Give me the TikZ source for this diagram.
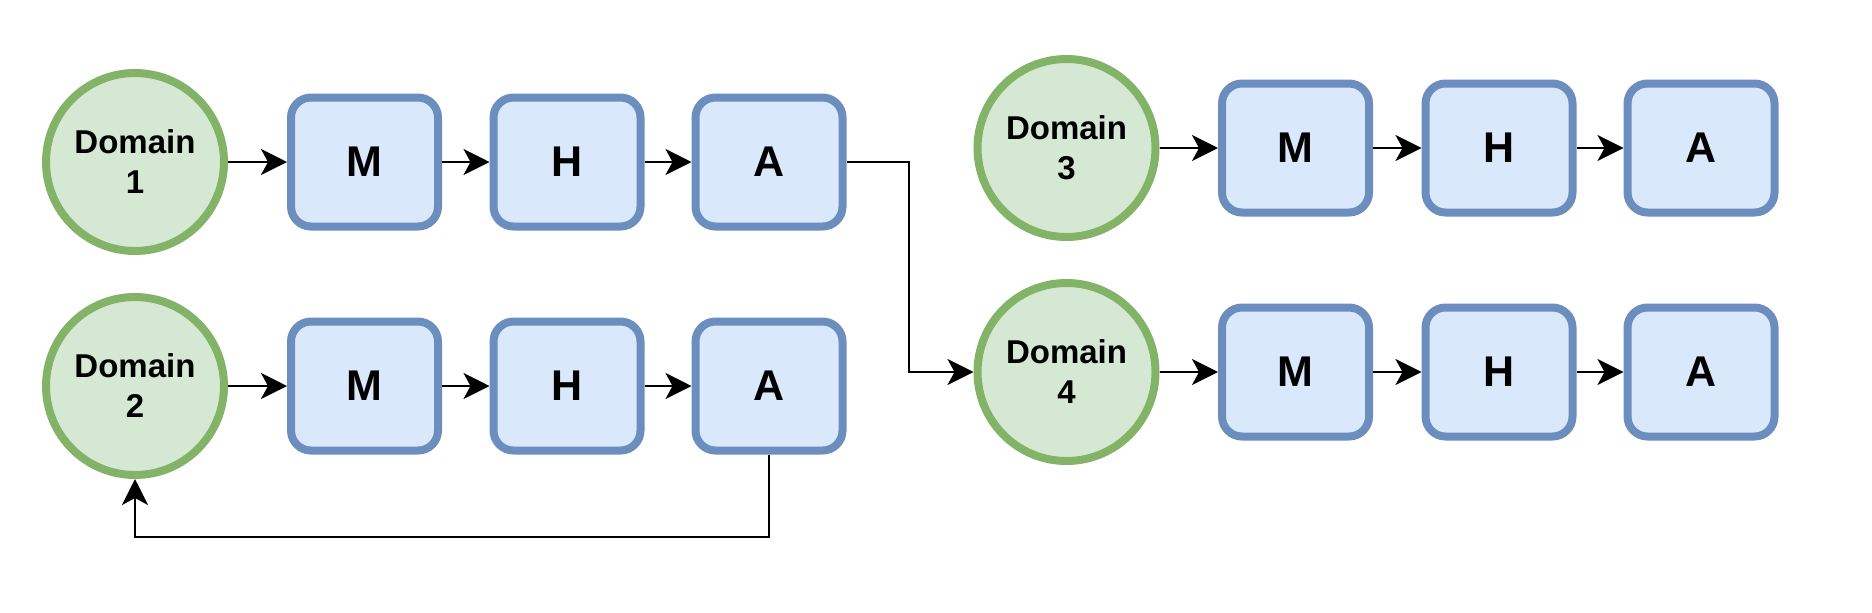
\documentclass[tikz,border=0pt]{standalone}
\usepackage{fontspec}
\setmainfont{Liberation Sans}
\usetikzlibrary{arrows.meta}
\definecolor{domfill}{HTML}{D5E8D4}
\definecolor{domline}{HTML}{82B366}
\definecolor{blkfill}{HTML}{DAE8FC}
\definecolor{blkline}{HTML}{6C8EBF}

\begin{document}
\begin{tikzpicture}[x=0.5pt,y=-0.5pt,
  domnode/.style={circle,draw=domline,fill=domfill,line width=4pt,minimum size=89pt,inner sep=0pt,align=center,font=\bfseries\fontsize{16.5}{20}\selectfont},
  stage/.style={rectangle,rounded corners=10pt,draw=blkline,fill=blkfill,line width=4pt,minimum width=73.5pt,minimum height=64.5pt,font=\bfseries\fontsize{21.5}{26}\selectfont},
  flow/.style={-{Stealth[length=13pt,width=13pt,inset=3.5pt]},line width=1.2pt}]
\useasboundingbox (0,0) rectangle (1872,612);
\node[domnode] (D1) at (135,162) {Domain\\1};
\node[stage] (M1) at (364.5,162) {M};
\node[stage] (H1) at (567,162) {H};
\node[stage] (A1) at (769,162) {A};
\node[domnode] (D2) at (135,386) {Domain\\2};
\node[stage] (M2) at (364.5,386) {M};
\node[stage] (H2) at (567,386) {H};
\node[stage] (A2) at (769,386) {A};
\node[domnode] (D3) at (1066.5,148) {Domain\\3};
\node[stage] (M3) at (1295.5,148) {M};
\node[stage] (H3) at (1499,148) {H};
\node[stage] (A3) at (1701,148) {A};
\node[domnode] (D4) at (1066.5,372) {Domain\\4};
\node[stage] (M4) at (1295.5,372) {M};
\node[stage] (H4) at (1499,372) {H};
\node[stage] (A4) at (1701,372) {A};
\coordinate (bend) at (909,162);
\coordinate (back) at (769,537);

\draw[flow] (D1) -- (M1);
\draw[flow] (M1) -- (H1);
\draw[flow] (H1) -- (A1);
\draw[flow] (D2) -- (M2);
\draw[flow] (M2) -- (H2);
\draw[flow] (H2) -- (A2);
\draw[flow] (D3) -- (M3);
\draw[flow] (M3) -- (H3);
\draw[flow] (H3) -- (A3);
\draw[flow] (D4) -- (M4);
\draw[flow] (M4) -- (H4);
\draw[flow] (H4) -- (A4);
\draw[flow,line width=1pt] (A1.east) -- (bend) |- (D4.west);
\draw[flow] (A2.south) -- (back) -| (D2.south);
\end{tikzpicture}
\end{document}
